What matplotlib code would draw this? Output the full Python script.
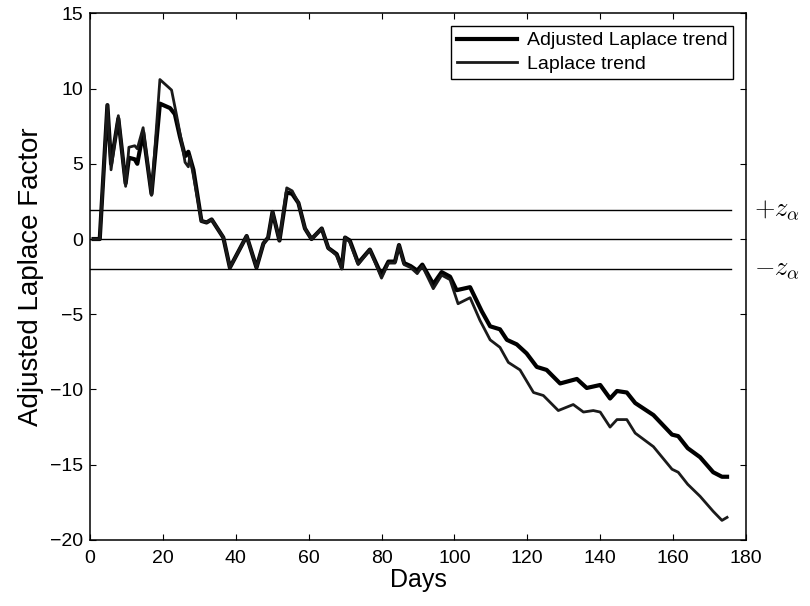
import numpy as np
from matplotlib import pyplot as plt

# values (day, factor)
adj_days = [1, 2.7, 4.8, 5.8, 7.8, 9.8, 10.7, 12.3, 13.0, 14.6, 16.9, 19.2, 22.0, 23.3, 24.7,
            26.1, 27.0, 28.4, 30.6, 32.0, 33.4, 36.6, 38.4, 43.0, 45.7, 47.6, 48.9, 50.1, 52.0,
            54.0, 55.5, 57.2, 59.0, 60.8, 63.6, 65.4, 67.7, 69.1, 70.0, 71.3, 73.6, 76.8, 80.0,
            81.9, 83.7, 84.8, 86.2, 88.0, 89.8, 91.2, 94.2, 96.5, 98.8, 100.6, 104.3, 107.5,
            109.8, 112.5, 114.4, 117.1, 119.8, 122.6, 125.3, 129.0, 133.6, 136.3, 140.0, 142.7,
            144.6, 147.3, 149.6, 154.6, 159.7, 161.4, 164.0, 167.4, 171.0, 173.4, 174.8]
adj_vals = [0, 0, 8.9, 5.0, 8.0, 3.7, 5.4, 5.3, 5.0, 7.1, 3.0, 9.0, 8.7, 8.3, 6.8,
            5.5, 5.8, 4.6, 1.2, 1.1, 1.3, 0.1, -1.9, 0.2, -1.9, -0.3, 0.1, 1.8, -0.1,
            3.1, 3.0, 2.4, 0.7, 0.0, 0.7, -0.6, -1.0, -1.9, 0.1, -0.1, -1.6, -0.7, -2.4,
            -1.5, -1.5, -0.4, -1.6, -1.8, -2.1, -1.7, -3.0, -2.2, -2.5, -3.4, -3.2, -4.8,
            -5.8, -6.0, -6.7, -7.0, -7.6, -8.5, -8.7, -9.6, -9.3, -9.9, -9.7, -10.6,
            -10.1, -10.2, -10.9, -11.7, -13.0, -13.1, -13.9, -14.5, -15.5, -15.8, -15.8]

lap_days = [1, 2.7, 4.8, 5.8, 7.8, 9.8, 10.7, 12.3, 13.0, 14.6, 16.9, 19.2, 21.5, 22.4, 23.8,
            25.2, 26.1, 27.0, 27.4, 28.4, 30.6, 32.0, 33.4, 36.6, 38.4, 43.0, 45.7, 47.6, 48.9,
            50.1, 52.0, 54.0, 55.5, 57.2, 59.0, 60.8, 63.6, 65.4, 67.7, 69.1, 70.0, 71.3, 73.6,
            76.8, 80.0, 81.9, 83.7, 84.8, 86.2, 88.0, 89.8, 91.2, 94.2, 96.5, 98.8, 101.0,
            104.3, 107.0, 109.8, 112.5, 114.8, 118.0, 121.7, 124.4, 128.5, 132.6, 135.4, 138.1,
            140.0, 142.7, 144.6, 147.3, 149.6, 154.6, 159.7, 161.4, 164.0, 167.4, 171.0, 173.4,
            174.8]
lap_vals = [0, 0, 8.9, 4.6, 8.2, 3.5, 6.1, 6.2, 6.0, 7.4, 2.9, 10.6, 10.1, 9.9, 8.2,
            6.4, 5.1, 4.8, 5.5, 4.2, 1.2, 1.1, 1.3, 0.1, -1.9, 0.2, -1.9, -0.3, 0.1,
            1.8, -0.1, 3.4, 3.2, 2.4, 0.7, 0.0, 0.7, -0.6, -1.1, -2.0, 0.1, -0.2, -1.7,
            -0.7, -2.6, -1.6, -1.6, -0.4, -1.7, -1.9, -2.3, -1.8, -3.3, -2.4, -2.7, -4.3,
            -3.9, -5.4, -6.7, -7.2, -8.2, -8.7, -10.2, -10.4, -11.4, -11.0, -11.5, -11.4,
            -11.5, -12.5, -12.0, -12.0, -12.9, -13.8, -15.3, -15.5, -16.3, -17.1, -18.1, -18.7,
            -18.5]

z_alpha = 1.96
ref_levels = [z_alpha, 0, -z_alpha]
ref_labels = [r'$+z_\alpha$', r'$-z_\alpha$']

plt.rcParams['font.family'] = ['Liberation Sans', 'DejaVu Sans']
plt.rcParams['mathtext.fontset'] = 'cm'

f0 = plt.figure(figsize=(8.1, 6.06), dpi=100)
ax = f0.add_axes([0.111, 0.109, 0.81, 0.869])

# reference lines at +z, 0, -z
for lev in ref_levels:
    ax.plot([0, 176], [lev, lev], 'k-', lw=1.0)

ax.plot(adj_days, adj_vals, 'k-', lw=3.0, label='Adjusted Laplace trend')
ax.plot(lap_days, lap_vals, '-', color='#1a1a1a', lw=2.0, label='Laplace trend')

ax.text(1.012, z_alpha, ref_labels[0], transform=ax.get_yaxis_transform(),
        fontsize=19, va='center', ha='left')
ax.text(1.012, -z_alpha, ref_labels[1], transform=ax.get_yaxis_transform(),
        fontsize=19, va='center', ha='left')

ax.set_xlim(0, 180)
ax.set_ylim(-20, 15)
ax.set_xticks(np.arange(0, 181, 20))
ax.set_yticks(np.arange(-20, 16, 5))
ax.tick_params(direction='in', top=True, right=True, length=4, labelsize=14)
ax.tick_params(axis='x', pad=7)
ax.tick_params(axis='y', pad=5)
for sp in ax.spines.values():
    sp.set_linewidth(1.1)

ax.set_xlabel('Days', fontsize=18, labelpad=1)
ax.set_ylabel('Adjusted Laplace Factor', fontsize=20, labelpad=4)

leg = ax.legend(loc='upper right', fontsize=14, fancybox=False, framealpha=1,
                edgecolor='black', handlelength=3.1, handletextpad=0.5, borderpad=0.3,
                labelspacing=0.3, borderaxespad=0.65)
leg.get_frame().set_linewidth(1.0)

f0.savefig('out.png', dpi=100)
